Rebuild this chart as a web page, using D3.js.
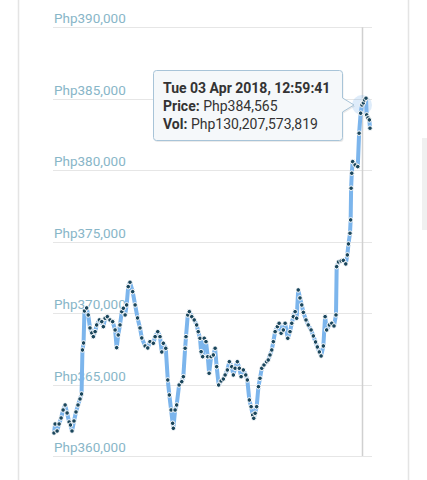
<!DOCTYPE html>
<html>
<head>
<meta charset="utf-8">
<script src="https://cdn.jsdelivr.net/npm/d3@7"></script>
<style>
  html, body { margin: 0; padding: 0; background: #fff; }
  svg { display: block; font-family: Roboto, "Noto Sans", sans-serif; }
</style>
</head>
<body>
<svg id="chart" width="427" height="480"></svg>
<script>
// minutes after the first sample (2018-04-02 13:53:41)
var minutes = [0, 5, 14, 23, 32, 41, 50, 59, 68, 74, 81, 90, 99, 108, 117, 124, 128, 133, 137, 147,
  154, 162, 170, 177, 185, 192, 204, 215, 222, 230, 240, 252, 264, 275, 282, 289, 297, 305, 312, 320,
  327, 334, 342, 354, 365, 376, 387, 395, 410, 422, 432, 447, 455, 467, 477, 485, 492, 503, 512, 519,
  527, 534, 537, 545, 552, 563, 575, 582, 590, 594, 602, 609, 620, 631, 642, 649, 657, 662, 669, 676,
  684, 692, 698, 707, 717, 725, 732, 741, 752, 762, 770, 780, 789, 800, 807, 815, 825, 834, 842, 852,
  863, 870, 879, 887, 894, 899, 905, 912, 920, 927, 935, 945, 957, 964, 972, 980, 987, 995, 1005, 1013,
  1022, 1032, 1040, 1052, 1062, 1070, 1077, 1085, 1092, 1099, 1107, 1115, 1122, 1134, 1144, 1157, 1167, 1177, 1185, 1194,
  1202, 1212, 1220, 1227, 1239, 1250, 1260, 1269, 1272, 1280, 1292, 1302, 1313, 1320, 1325, 1332, 1335, 1337, 1340, 1344,
  1355, 1367, 1373, 1380, 1386, 1392, 1397, 1404, 1407, 1413, 1419, 1422];

var prices = [361610, 362240, 361750, 362240, 362660, 363220, 363570, 363010, 362380, 362170,
  361750, 362450, 363080, 363570, 363990, 364340, 367420, 367910, 370150, 370360,
  369870, 368960, 368610, 368350, 368700, 369170, 369520, 369400, 369050, 369640,
  369750, 369520, 369400, 368820, 367580, 368470, 369170, 370100, 370340, 369870,
  370570, 371850, 372160, 371500, 370570, 369660, 368960, 368260, 367700, 367560,
  368000, 367890, 368350, 368700, 368350, 367280, 367890, 367540, 365320, 364270,
  363220, 362290, 361940, 363220, 363570, 364970, 365200, 365550, 367540, 368350,
  369870, 370100, 369750, 369520, 369170, 368700, 368240, 367300, 366950, 368240,
  368000, 366950, 365790, 366950, 367070, 367540, 366250, 364970, 365250, 365390,
  365670, 366020, 366600, 366250, 365670, 366140, 366600, 366140, 365550, 366020,
  365670, 365320, 363920, 363450, 362870, 362640, 362990, 363450, 364850, 365440,
  366140, 366370, 366600, 366720, 367070, 367420, 368000, 368700, 369050, 369290,
  368590, 368820, 369290, 368240, 368700, 369290, 369750, 370100, 369640, 371620,
  371060, 370570, 370050, 369520, 369170, 368820, 368400, 367980, 367630, 367280,
  367000, 367700, 369750, 368820, 369170, 369290, 369100, 369870, 373250, 373580,
  373650, 373690, 373440, 374070, 374840, 375590, 376520, 378740, 379790, 380600,
  380370, 380250, 382590, 383990, 384565, 384710, 384920, 385040, 383870, 383660,
  383520, 382940];

var yTicks = [360000, 365000, 370000, 375000, 380000, 385000, 390000];
var startTime = new Date(2018, 3, 2, 13, 53, 41);
var hoverIndex = 164;
var hoverVolume = 130207573819;

var svg = d3.select("#chart");
var lineColor = "#7cb5ec", markColor = "#1a465c";

var data = minutes.map(function(m, i) {
  return { t: d3.timeMinute.offset(startTime, m), p: prices[i] };
});

var x = d3.scaleTime()
  .domain(d3.extent(data, function(d) { return d.t; }))
  .range([54, 370]);
var y = d3.scaleLinear().domain([360000, 390000]).range([456, 27.3]);

// cards in the background
svg.append("line").attr("x1", 18.5).attr("x2", 18.5).attr("y1", 0).attr("y2", 480)
  .attr("stroke", "#e4e4e4").attr("stroke-width", 1.5);
svg.append("line").attr("x1", 408.5).attr("x2", 408.5).attr("y1", 0).attr("y2", 480)
  .attr("stroke", "#e4e4e4").attr("stroke-width", 1.5);
svg.append("rect").attr("x", 422).attr("y", 138).attr("width", 6).attr("height", 92)
  .attr("fill", "#f0f0f0");

// grid + labels
var money = d3.format(",");
var grid = svg.append("g");
grid.selectAll("line").data(yTicks).enter().append("line")
  .attr("x1", 53).attr("x2", 372)
  .attr("y1", function(d) { return Math.round(y(d)) + 0.5; })
  .attr("y2", function(d) { return Math.round(y(d)) + 0.5; })
  .attr("stroke", "#e6e6e6").attr("stroke-width", 1);
grid.selectAll("text").data(yTicks).enter().append("text")
  .attr("x", 54).attr("y", function(d) { return y(d) - 4; })
  .attr("font-size", 13.5).attr("fill", "#88b6c8")
  .text(function(d) { return "Php" + money(d); });

var hov = data[hoverIndex];

// crosshair
svg.append("line")
  .attr("x1", Math.round(x(hov.t)) + 0.5).attr("x2", Math.round(x(hov.t)) + 0.5)
  .attr("y1", y(390000)).attr("y2", y(360000))
  .attr("stroke", "#d0d0d0").attr("stroke-width", 1.5);

// series
var line = d3.line().x(function(d) { return x(d.t); }).y(function(d) { return y(d.p); });
svg.append("path").datum(data)
  .attr("d", line).attr("fill", "none")
  .attr("stroke", lineColor).attr("stroke-width", 4)
  .attr("stroke-linejoin", "round").attr("stroke-linecap", "round");

svg.append("circle").attr("cx", x(hov.t)).attr("cy", y(hov.p)).attr("r", 10)
  .attr("fill", lineColor).attr("fill-opacity", 0.25);

svg.append("g").selectAll("circle").data(data).enter().append("circle")
  .attr("cx", function(d) { return x(d.t); })
  .attr("cy", function(d) { return y(d.p); })
  .attr("r", 2.3)
  .attr("fill", markColor)
  .attr("stroke", "#fff").attr("stroke-width", 1);

// tooltip
var tx = 153.5, ty = 70.5, tw = 189, th = 70;
var px = x(hov.t) - 8, py = y(hov.p);
var tip = svg.append("g");
var tipPath = "M" + (tx + 3) + "," + ty + "H" + (tx + tw - 3) + "Q" + (tx + tw) + "," + ty + " " + (tx + tw) + "," + (ty + 3) +
  "V" + (py - 7) + "L" + px + "," + py + "L" + (tx + tw) + "," + (py + 7) +
  "V" + (ty + th - 3) + "Q" + (tx + tw) + "," + (ty + th) + " " + (tx + tw - 3) + "," + (ty + th) +
  "H" + (tx + 3) + "Q" + tx + "," + (ty + th) + " " + tx + "," + (ty + th - 3) +
  "V" + (ty + 3) + "Q" + tx + "," + ty + " " + (tx + 3) + "," + ty + "Z";
tip.append("path").attr("d", tipPath).attr("transform", "translate(1,1.5)")
  .attr("fill", "#000").attr("fill-opacity", 0.08);
tip.append("path").attr("d", tipPath)
  .attr("fill", "#f5f8fa").attr("stroke", "#a8c4d8").attr("stroke-width", 1);

var fmtTime = d3.timeFormat("%a %d %b %Y, %H:%M:%S");
var t1 = tip.append("text").attr("x", 163).attr("y", 93).attr("font-size", 14).attr("fill", "#333");
t1.append("tspan").attr("font-weight", "bold").text(fmtTime(hov.t));
var t2 = tip.append("text").attr("x", 163).attr("y", 111).attr("font-size", 14).attr("fill", "#333");
t2.append("tspan").attr("font-weight", "bold").text("Price: ");
t2.append("tspan").text("Php" + money(hov.p));
var t3 = tip.append("text").attr("x", 163).attr("y", 128.5).attr("font-size", 14).attr("fill", "#333");
t3.append("tspan").attr("font-weight", "bold").text("Vol: ");
t3.append("tspan").text("Php" + money(hoverVolume));
</script>
</body>
</html>
